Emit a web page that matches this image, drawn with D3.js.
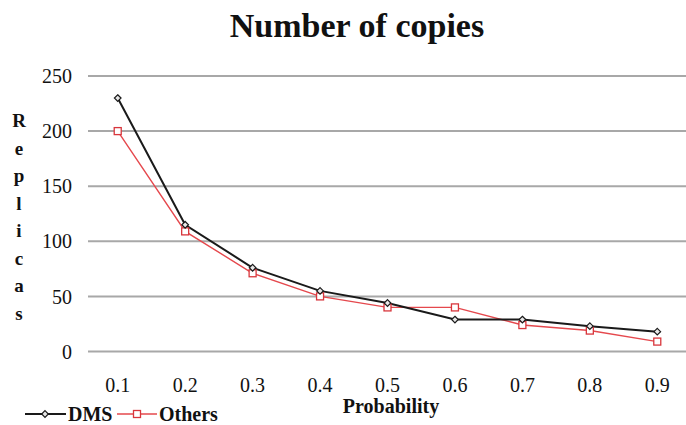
<!DOCTYPE html>
<html>
<head>
<meta charset="utf-8">
<script src="https://cdn.jsdelivr.net/npm/d3@7/dist/d3.min.js"></script>
<style>
  html, body { margin: 0; padding: 0; background: #fff; }
  svg { display: block; }
  svg text { font-family: "Liberation Serif", "Times New Roman", serif !important; fill: #111; }
</style>
</head>
<body>
<svg id="chart" width="686" height="425"></svg>
<script>
// Probability levels on the x axis
const categories = ["0.1", "0.2", "0.3", "0.4", "0.5", "0.6", "0.7", "0.8", "0.9"];
// Number of replicas per scheme
const dmsValues = [230, 115, 76, 55, 44, 29, 29, 23, 18];
const othersValues = [200, 109, 71, 50, 40, 40, 24, 19, 9];
const yTicks = [0, 50, 100, 150, 200, 250];

const svg = d3.select("#chart");
const W = 686, H = 425;
const SERIF = "'Liberation Serif', 'Times New Roman', serif";

const x = d3.scaleBand().domain(categories).range([84, 691]);
const y = d3.scaleLinear().domain([0, 250]).range([351.5, 76]);

// Title
svg.append("text")
  .attr("x", 357).attr("y", 37)
  .attr("text-anchor", "middle")
  .style("font-family", SERIF)
  .attr("font-size", 34).attr("font-weight", "bold")
  .text("Number of copies");

// Horizontal gridlines
svg.append("g").selectAll("line").data(yTicks).join("line")
  .attr("x1", 88).attr("x2", W)
  .attr("y1", d => y(d)).attr("y2", d => y(d))
  .attr("stroke", "#a8a8a8").attr("stroke-width", 2);

// Y axis tick labels
const yAxis = d3.axisLeft(y).tickValues(yTicks).tickSize(0).tickPadding(0);
const yg = svg.append("g").attr("transform", "translate(72,0)").call(yAxis);
yg.select(".domain").remove();
yg.selectAll("text")
  .style("font-family", SERIF).style("font-size", "20px")
  .attr("fill", "#111").attr("dy", "0.33em");

// X axis tick labels
const xAxis = d3.axisBottom(x).tickSize(0).tickPadding(0);
const xg = svg.append("g").attr("transform", "translate(0,392)").call(xAxis);
xg.select(".domain").remove();
xg.selectAll("text")
  .style("font-family", SERIF).style("font-size", "20px")
  .attr("fill", "#111").attr("dy", 0);

// Vertical stacked y-axis title
const yTitle = "Replicas".split("");
svg.append("g").selectAll("text").data(yTitle).join("text")
  .attr("x", 19).attr("y", (d, i) => 127 + i * 27.5)
  .attr("text-anchor", "middle")
  .style("font-family", SERIF)
  .attr("font-size", 19).attr("font-weight", "bold")
  .text(d => d);

// X axis title
svg.append("text")
  .attr("x", 391).attr("y", 413)
  .attr("text-anchor", "middle")
  .style("font-family", SERIF)
  .attr("font-size", 20).attr("font-weight", "bold")
  .text("Probability");

const cx = d => x(d) + x.bandwidth() / 2;
const line = d3.line().x(d => cx(d[0])).y(d => y(d[1]));

// Others series (red, squares)
const othersPts = categories.map((c, i) => [c, othersValues[i]]);
svg.append("path").datum(othersPts)
  .attr("d", line).attr("fill", "none")
  .attr("stroke", "#e5484d").attr("stroke-width", 1.4);

// DMS series (black, diamonds)
const dmsPts = categories.map((c, i) => [c, dmsValues[i]]);
svg.append("path").datum(dmsPts)
  .attr("d", line).attr("fill", "none")
  .attr("stroke", "#1a1a1a").attr("stroke-width", 2);

svg.append("g").selectAll("rect").data(othersPts).join("rect")
  .attr("x", d => cx(d[0]) - 3.5).attr("y", d => y(d[1]) - 3.5)
  .attr("width", 7).attr("height", 7)
  .attr("fill", "#fff").attr("stroke", "#d8363c").attr("stroke-width", 1.3);

const diamond = d3.symbol().type(d3.symbolDiamond2).size(28);
svg.append("g").selectAll("path").data(dmsPts).join("path")
  .attr("transform", d => `translate(${cx(d[0])},${y(d[1])})`)
  .attr("d", diamond)
  .attr("fill", "#e8e8e8").attr("stroke", "#1a1a1a").attr("stroke-width", 1.2);

// Legend
const legend = svg.append("g");
legend.append("line").attr("x1", 25).attr("x2", 66).attr("y1", 414).attr("y2", 414)
  .attr("stroke", "#1a1a1a").attr("stroke-width", 2);
legend.append("path").attr("transform", "translate(45,414)").attr("d", diamond)
  .attr("fill", "#e8e8e8").attr("stroke", "#1a1a1a").attr("stroke-width", 1.2);
legend.append("text").attr("x", 68).attr("y", 421)
  .style("font-family", SERIF)
  .attr("font-size", 20).attr("font-weight", "bold").text("DMS");

legend.append("line").attr("x1", 117).attr("x2", 157).attr("y1", 414).attr("y2", 414)
  .attr("stroke", "#e5484d").attr("stroke-width", 1.4);
legend.append("rect").attr("x", 133.5).attr("y", 410.5).attr("width", 7).attr("height", 7)
  .attr("fill", "#fff").attr("stroke", "#d8363c").attr("stroke-width", 1.3);
legend.append("text").attr("x", 159).attr("y", 421)
  .style("font-family", SERIF)
  .attr("font-size", 20).attr("font-weight", "bold").text("Others");
</script>
</body>
</html>
